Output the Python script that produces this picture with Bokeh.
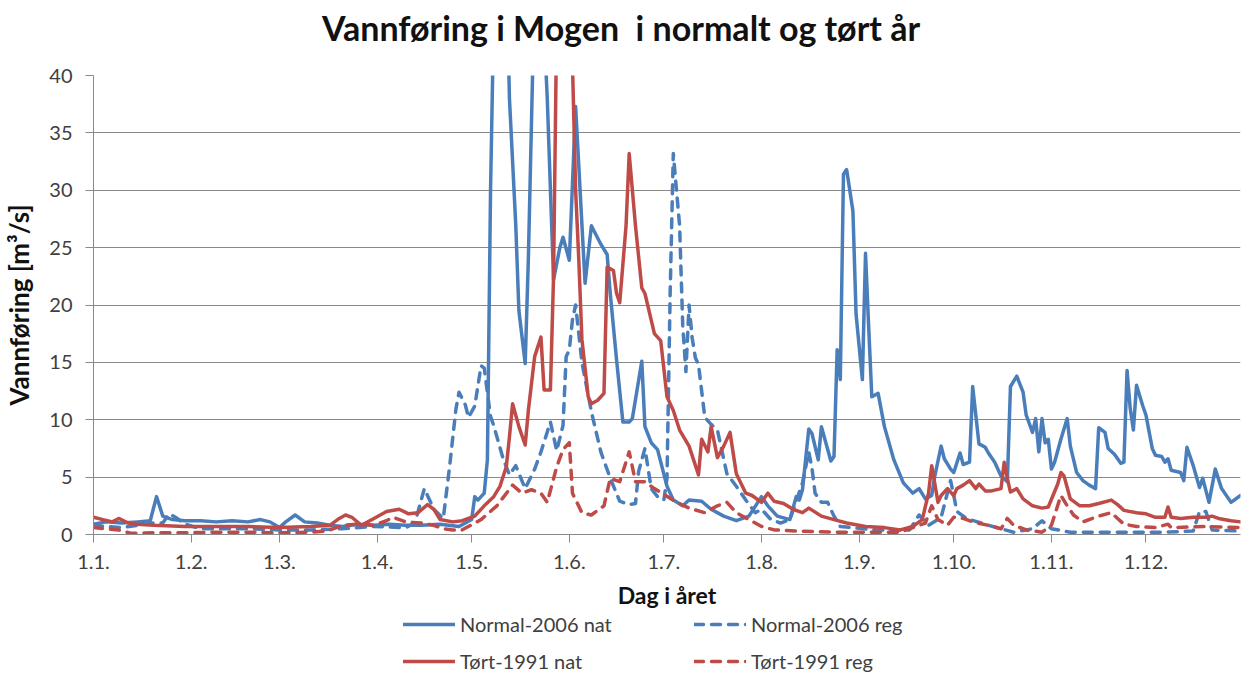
from bokeh.plotting import figure
from bokeh.models import Range1d, FixedTicker, Legend, LegendItem, Label
from bokeh.layouts import column
from bokeh.embed import file_html
from bokeh.resources import INLINE

# ---------------- data ----------------
title_text = "Vannføring i Mogen\u00a0 i normalt og tørt år"
month_start_days = [1, 32, 60, 91, 121, 152, 182, 213, 244, 274, 305, 335]
month_labels = ["1.1.", "1.2.", "1.3.", "1.4.", "1.5.", "1.6.", "1.7.", "1.8.", "1.9.", "1.10.", "1.11.", "1.12."]
y_ticks = [0, 5, 10, 15, 20, 25, 30, 35, 40]

normal_nat_day = [1, 5, 10, 15, 19, 21, 23, 26, 30, 35, 40, 45, 50, 54, 57, 60, 62, 65, 68, 72, 76, 80, 85, 90, 95, 100,
                  105, 111, 117, 121, 122, 123, 125, 126, 127, 128, 130, 132, 133, 135, 136, 138, 139, 140, 141, 143,
                  144, 145, 147, 149, 150, 152, 154, 157, 159, 162, 164, 165, 167, 169, 171, 172, 175, 176, 178, 180,
                  183, 185, 188, 190, 194, 197, 201, 205, 209, 213, 215, 218, 222, 224, 225, 226, 228, 229, 231, 232,
                  234, 235, 236, 237, 238, 239, 240, 242, 243, 245, 246, 247, 248, 250, 252, 255, 258, 261, 263, 265,
                  267, 268, 270, 271, 273, 274, 276, 277, 279, 280, 281, 282, 284, 285, 287, 289, 291, 292, 294, 296,
                  297, 299, 300, 301, 302, 303, 304, 305, 306, 308, 310, 311, 313, 315, 317, 319, 320, 322, 323, 325,
                  327, 328, 329, 330, 331, 332, 334, 335, 337, 338, 340, 341, 342, 343, 346, 347, 348, 350, 352, 353,
                  355, 357, 359, 362, 365]
normal_nat_val = [0.9, 1.1, 1.0, 1.1, 1.2, 3.3, 1.6, 1.3, 1.2, 1.2, 1.1, 1.2, 1.1, 1.3, 1.1, 0.6, 1.1, 1.7, 1.1, 1.0,
                  0.8, 0.7, 0.9, 0.8, 0.9, 0.8, 0.8, 0.9, 0.7, 1.3, 3.3, 3.0, 3.6, 6.5, 30.0, 45.0, 55.0, 50.0, 38.0,
                  27.0, 19.5, 14.9, 24.0, 36.0, 48.0, 52.0, 44.0, 38.0, 22.2, 25.0, 25.9, 23.9, 37.3, 21.9, 26.9, 25.3,
                  24.4, 21.0, 15.2, 9.8, 9.8, 10.1, 15.1, 9.4, 8.0, 7.4, 4.2, 3.0, 2.5, 3.0, 2.9, 2.2, 1.6, 1.2, 1.6,
                  3.3, 2.5, 1.6, 1.3, 3.3, 3.0, 3.9, 9.2, 8.8, 6.5, 9.4, 7.4, 6.4, 6.8, 16.1, 13.5, 31.4, 31.8, 28.2,
                  19.2, 13.5, 24.5, 18.1, 12.0, 12.3, 9.4, 6.5, 4.5, 3.6, 4.0, 3.1, 3.4, 5.1, 7.7, 6.6, 5.7, 5.4, 7.1,
                  6.1, 6.3, 12.9, 10.4, 7.9, 7.6, 7.1, 6.3, 5.1, 4.6, 12.9, 13.8, 12.4, 10.4, 8.9, 10.1, 7.2, 10.1, 8.0,
                  8.3, 5.7, 6.3, 8.3, 10.1, 7.7, 5.4, 4.7, 4.3, 4.0, 9.3, 8.9, 7.5, 7.0, 6.2, 6.3, 14.3, 11.0, 9.1,
                  13.0, 11.2, 10.4, 7.5, 6.9, 6.8, 6.3, 6.6, 5.6, 5.4, 4.7, 7.6, 6.0, 4.1, 4.9, 2.8, 5.7, 4.0, 2.8, 3.4]

normal_reg_day = [1, 5, 10, 15, 20, 23, 25, 27, 30, 35, 50, 60, 70, 80, 90, 100, 103, 106, 109, 112, 114, 116, 117, 119,
                  120, 122, 124, 125, 127, 128, 131, 133, 135, 138, 141, 143, 146, 148, 150, 151, 152, 153, 154, 156,
                  159, 162, 165, 168, 171, 173, 174, 176, 178, 180, 182, 183, 184, 185, 187, 188, 189, 190, 191, 192,
                  193, 195, 197, 199, 202, 205, 208, 211, 213, 216, 219, 222, 226, 228, 229, 230, 232, 234, 236, 238,
                  249, 260, 263, 266, 270, 273, 274, 275, 278, 285, 289, 293, 299, 302, 305, 311, 320, 340, 350, 352,
                  354, 356, 365]
normal_reg_val = [0.8, 0.7, 0.6, 0.8, 1.0, 1.0, 1.8, 1.5, 0.9, 0.5, 0.5, 0.4, 0.4, 0.5, 0.7, 0.6, 1.0, 4.0, 2.2, 1.4,
                  5.9, 10.9, 12.4, 11.3, 10.2, 11.2, 14.7, 14.5, 10.3, 9.5, 6.6, 5.2, 6.0, 4.0, 5.7, 7.2, 9.8, 7.3,
                  9.5, 15.5, 16.1, 18.7, 20.0, 15.0, 10.7, 7.2, 4.9, 2.9, 2.6, 2.7, 5.5, 7.5, 4.0, 3.3, 3.0, 4.9,
                  21.0, 33.2, 26.9, 18.2, 14.2, 20.0, 17.1, 15.4, 14.8, 10.2, 9.6, 9.1, 5.3, 4.2, 3.0, 1.9, 2.2, 1.3,
                  1.0, 1.3, 4.5, 7.2, 5.8, 3.6, 2.8, 2.8, 1.6, 0.7, 0.4, 0.4, 1.7, 0.8, 1.5, 4.7, 3.4, 2.0, 1.4, 0.8,
                  0.5, 0.2, 0.5, 1.2, 0.5, 0.2, 0.2, 0.2, 0.3, 2.0, 2.0, 0.4, 0.3]

dry_nat_day = [1, 4, 7, 9, 12, 15, 20, 30, 40, 50, 60, 70, 76, 79, 81, 83, 86, 90, 94, 98, 101, 104, 107, 109, 111, 115,
               118, 122, 125, 128, 130, 132, 133, 134, 136, 138, 139, 141, 143, 144, 146, 147, 148, 150, 152, 153, 154,
               155, 156, 158, 159, 161, 163, 164, 166, 167, 168, 170, 171, 173, 175, 176, 179, 181, 183, 185, 187, 190,
               193, 194, 196, 197, 199, 201, 203, 205, 208, 210, 213, 215, 217, 220, 223, 226, 228, 232, 236, 240, 246,
               252, 257, 261, 264, 266, 267, 269, 270, 272, 274, 275, 277, 279, 281, 282, 284, 286, 289, 290, 291, 292,
               294, 296, 299, 302, 304, 307, 308, 309, 311, 314, 317, 320, 324, 326, 328, 332, 335, 338, 341, 342, 343,
               346, 350, 354, 356, 358, 362, 365]
dry_nat_val = [1.5, 1.3, 1.1, 1.4, 1.0, 0.9, 0.8, 0.7, 0.7, 0.7, 0.6, 0.7, 0.8, 1.4, 1.7, 1.5, 0.8, 1.4, 2.0, 2.2, 1.8,
               1.9, 2.6, 2.2, 1.3, 1.1, 1.2, 1.6, 2.5, 3.3, 4.2, 5.9, 8.5, 11.4, 9.4, 7.8, 10.8, 15.5, 17.2, 12.6, 12.6,
               22.5, 45.0, 55.0, 50.0, 41.0, 30.0, 24.0, 17.0, 12.0, 11.4, 11.7, 12.3, 23.3, 23.0, 21.0, 20.2, 26.9,
               33.2, 26.9, 21.5, 21.0, 17.5, 16.9, 12.0, 10.8, 9.1, 7.7, 5.2, 8.3, 7.2, 9.4, 6.7, 7.7, 8.9, 5.3, 3.6,
               3.4, 2.8, 3.6, 2.9, 2.7, 2.2, 1.9, 2.3, 1.6, 1.3, 1.0, 0.7, 0.6, 0.4, 0.7, 1.3, 3.6, 6.0, 2.8, 3.4, 4.0,
               3.4, 4.0, 4.3, 4.7, 4.0, 4.4, 3.8, 3.8, 4.0, 6.3, 4.9, 3.7, 4.0, 3.1, 2.5, 2.3, 2.4, 4.4, 5.4, 5.1, 3.1,
               2.5, 2.5, 2.7, 3.0, 2.6, 2.1, 1.9, 1.8, 1.5, 1.5, 2.4, 1.5, 1.4, 1.5, 1.5, 1.6, 1.4, 1.2, 1.1]

dry_reg_day = [1, 5, 9, 13, 20, 30, 40, 50, 60, 70, 75, 80, 85, 90, 94, 96, 100, 105, 109, 112, 115, 118, 124, 129, 134,
               137, 140, 143, 145, 148, 150, 152, 153, 156, 159, 163, 165, 168, 171, 173, 176, 179, 182, 186, 190, 195,
               199, 202, 205, 209, 213, 217, 225, 236, 257, 265, 267, 269, 272, 274, 277, 280, 285, 289, 291, 293, 297,
               302, 305, 308, 310, 312, 315, 318, 320, 324, 326, 328, 332, 338, 342, 343, 354, 365]
dry_reg_val = [0.6, 0.5, 0.4, 0.1, 0.15, 0.15, 0.2, 0.2, 0.15, 0.2, 0.3, 0.8, 0.9, 0.8, 1.2, 1.5, 1.1, 1.0, 0.8, 0.5,
               0.4, 0.4, 1.3, 2.5, 4.3, 3.6, 3.9, 3.6, 2.8, 5.9, 7.4, 8.0, 3.6, 1.9, 1.7, 2.5, 4.9, 4.6, 7.2, 4.6, 4.6,
               4.0, 3.5, 2.8, 2.3, 1.9, 2.5, 2.8, 1.9, 1.3, 0.7, 0.4, 0.3, 0.2, 0.2, 1.0, 2.5, 1.3, 0.8, 1.5, 1.4, 1.1,
               0.8, 0.5, 1.4, 0.8, 0.4, 0.2, 0.8, 3.4, 2.5, 1.7, 1.1, 1.4, 1.6, 1.9, 1.4, 0.9, 0.7, 0.6, 0.9, 0.6, 0.7,
               0.6]

series_labels = ["Normal-2006 nat", "Normal-2006 reg", "Tørt-1991 nat", "Tørt-1991 reg"]

# ---------------- styling ----------------
BLUE = "#4A7EBB"
RED = "#BE4B48"
GRID = "#898989"
TXT = "#404040"
FONT = "Lato"
DASH = "9 8"
common = dict(line_width=3.5, line_join="round", line_cap="round")
series = [(normal_nat_day, normal_nat_val, dict(line_color=BLUE)),
          (normal_reg_day, normal_reg_val, dict(line_color=BLUE, line_dash=DASH)),
          (dry_nat_day, dry_nat_val, dict(line_color=RED)),
          (dry_reg_day, dry_reg_val, dict(line_color=RED, line_dash=DASH))]


def strip(height):
    f = figure(width=1244, height=height, output_backend="svg", toolbar_location=None,
               x_range=Range1d(0, 1148), y_range=Range1d(0, height),
               x_axis_location=None, y_axis_location=None,
               min_border_left=0, min_border_right=0, min_border_top=0, min_border_bottom=0)
    f.outline_line_color = None
    f.grid.visible = False
    f.background_fill_color = "white"
    f.border_fill_color = "white"
    return f


# ---------------- title strip ----------------
top = strip(55)
top.add_layout(Label(x=528, y=28, text=title_text, text_align="center", text_baseline="middle",
                     text_font=FONT, text_font_size="34px", text_font_style="bold", text_color="#111111"))

# ---------------- main chart ----------------
p = figure(width=1244, height=556, output_backend="svg", toolbar_location=None,
           x_range=Range1d(1, 365), y_range=Range1d(0, 40),
           min_border_left=92, min_border_right=4, min_border_top=20, min_border_bottom=75)

p.outline_line_color = None
p.background_fill_color = "white"
p.border_fill_color = "white"
p.xgrid.visible = False
p.ygrid.grid_line_color = GRID
p.ygrid.grid_line_width = 1

p.xaxis.ticker = FixedTicker(ticks=month_start_days)
p.xaxis.major_label_overrides = {d: lab for d, lab in zip(month_start_days, month_labels)}
p.yaxis.ticker = FixedTicker(ticks=y_ticks)

for ax in (p.xaxis[0], p.yaxis[0]):
    ax.axis_line_color = GRID
    ax.major_tick_line_color = GRID
    ax.minor_tick_line_color = None
    ax.major_tick_out = 8
    ax.major_tick_in = 0
    ax.major_label_text_font = FONT
    ax.major_label_text_font_size = "20px"
    ax.major_label_text_color = TXT
    ax.axis_label_text_font = FONT
    ax.axis_label_text_font_style = "bold"
    ax.axis_label_text_color = "#111111"

p.xaxis.axis_label = "Dag i året"
p.xaxis.axis_label_text_font_size = "23px"
p.xaxis.major_label_standoff = 12
p.xaxis.axis_label_standoff = 9
p.yaxis.axis_label = "Vannføring [m³/s]"
p.yaxis.axis_label_text_font_size = "26px"
p.yaxis.major_label_standoff = 13
p.yaxis.axis_label_standoff = 11

for xs, ys, st in series:
    p.line(xs, ys, **common, **st)

# ---------------- legend strip ----------------
leg = strip(62)
leg.y_range = Range1d(-100, -90)   # series drawn here stay outside the strip's frame
items = []
for lab, (xs, ys, st) in zip(series_labels, series):
    r = leg.line(xs, ys, **common, **st)
    items.append(LegendItem(label=lab, renderers=[r]))

legend = Legend(items=items, location=(310, 0), orientation="horizontal", ncols=2,
                border_line_color=None, background_fill_alpha=0, padding=0, margin=0,
                spacing=13, glyph_width=52, glyph_height=20, label_height=20, label_width=221,
                label_standoff=5, label_text_font=FONT, label_text_font_size="20px",
                label_text_color=TXT)
leg.add_layout(legend)

layout = column(top, p, leg, spacing=0)
open("out.html", "w").write(file_html(layout, INLINE))
